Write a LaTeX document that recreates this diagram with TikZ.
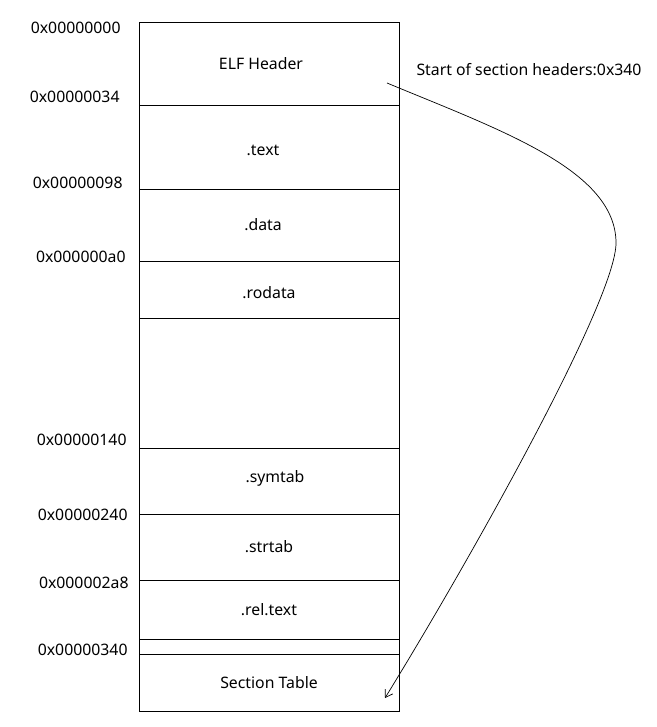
\documentclass[tikz,border=0pt]{standalone}
\usepackage{fontspec}
\setmainfont{Noto Sans}
\usetikzlibrary{arrows.meta}

\begin{document}
\begin{tikzpicture}[x=1pt,y=-1pt,line width=0.9pt,
  every node/.style={font=\fontsize{15.8}{18}\selectfont},
  addr/.style={anchor=east,inner sep=0pt}]
\useasboundingbox (0,0) rectangle (656,727);
\draw[] (139,22) rectangle (399,105) node[pos=0.5,xshift=-8pt] (hdr) {ELF Header};
\draw[] (139,105) rectangle (399,189) node[pos=0.5,xshift=-6pt,yshift=-3pt] (text) {.text};
\draw[] (139,189) rectangle (399,261) node[pos=0.5,xshift=-6pt] (data) {.data};
\draw[] (139,261) rectangle (399,318) node[pos=0.5,yshift=-3pt] (rodata) {.rodata};
\draw[] (139,318) rectangle (399,448) node[pos=0.5] (gap) {};
\draw[] (139,448) rectangle (399,514) node[pos=0.5,xshift=6pt,yshift=3pt] (symtab) {.symtab};
\draw[] (139,514) rectangle (399,580) node[pos=0.5] (strtab) {.strtab};
\draw[] (139,580) rectangle (399,639) node[pos=0.5] (reltext) {.rel.text};
\draw[] (139,639) rectangle (399,654) node[pos=0.5] (pad) {};
\draw[] (139,654) rectangle (399,711) node[pos=0.5] (shtab) {Section Table};
% offsets
\node[addr] (a0) at (121,28) {0x00000000};
\node[addr] (a1) at (120,97) {0x00000034};
\node[addr] (a2) at (123,183) {0x00000098};
\node[addr] (a3) at (126,257) {0x000000a0};
\node[addr] (a4) at (127,440) {0x00000140};
\node[addr] (a5) at (128,515) {0x00000240};
\node[addr] (a6) at (129,583) {0x000002a8};
\node[addr] (a7) at (128,650) {0x00000340};
% pointer to section headers
\node[inner sep=0pt] (shoff) at (529,70) {Start of section headers:0x340};
\coordinate (from) at (387,83);
\coordinate (turn) at (616,243);
\coordinate (to) at (385,698);
\draw[line width=0.7pt,-{Straight Barb[length=7pt,width=9pt]}] (from) .. controls (500,130) and (616,170) .. (turn)
  .. controls (616,300) and (470,560) .. (to);
\end{tikzpicture}
\end{document}
